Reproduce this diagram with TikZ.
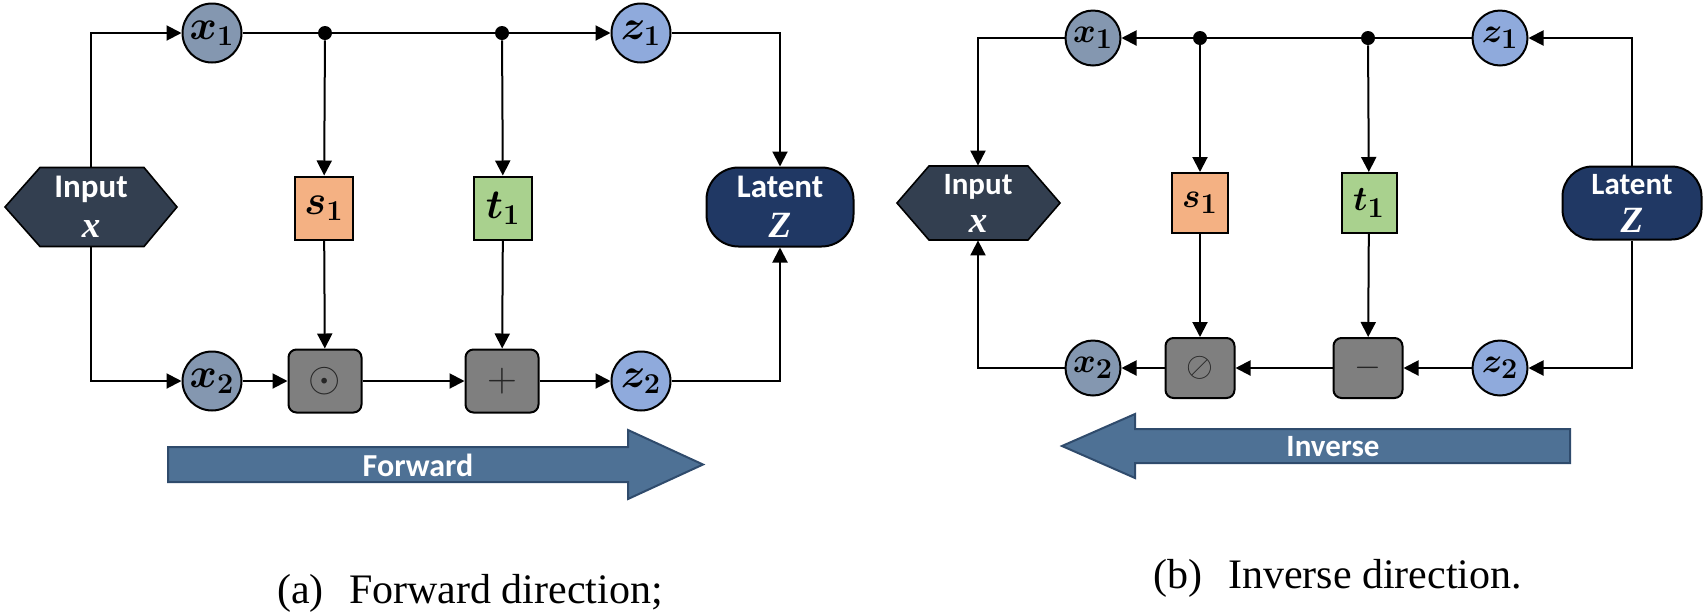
\documentclass[tikz,border=0pt]{standalone}
\usepackage{fontspec}
\setmainfont{Liberation Serif}
\newfontfamily\calib{Carlito}
\newfontfamily\serifbi{Liberation Serif}
\usepackage{bm}
\usetikzlibrary{arrows.meta,calc}
\definecolor{xcol}{HTML}{8497B0}
\definecolor{zcol}{HTML}{8FAADC}
\definecolor{scol}{HTML}{F4B183}
\definecolor{tcol}{HTML}{A9D18E}
\definecolor{opcol}{HTML}{7F7F7F}
\definecolor{incol}{HTML}{333F50}
\definecolor{latcol}{HTML}{203864}
\definecolor{arrfill}{HTML}{4E7195}
\definecolor{arrdraw}{HTML}{2F4B6C}
\newcommand{\bvar}[2]{{\boldmath$#1_{#2}$}}
\newcommand{\bsym}[1]{{\serifbi\bfseries\itshape\fontsize{18.5}{20}\selectfont #1}}
\begin{document}
\begin{tikzpicture}[x=0.5pt,y=-0.5pt,
  conn/.style={line width=1pt,-{Triangle[length=7.5pt,width=7.5pt]}},
  var/.style={circle,draw=black,line width=1pt,inner sep=0pt,font=\fontsize{20}{22}\selectfont},
  fbox/.style={rectangle,draw=black,line width=1pt,inner sep=0pt,font=\fontsize{20}{22}\selectfont},
  opbox/.style={rectangle,rounded corners=4pt,draw=black,line width=1pt,fill=opcol,inner sep=0pt,text=black!85,font=\fontsize{20}{22}\selectfont},
  jdot/.style={circle,fill=black,inner sep=0pt,minimum size=7pt},
  blocktxt/.style={text=white,align=center,inner sep=0pt,font=\calib\bfseries\fontsize{16.5}{19}\selectfont},
  bigtxt/.style={text=white,inner sep=0pt,font=\calib\bfseries\fontsize{16}{19}\selectfont},
  hexfill/.style={fill=incol,draw=black,line width=0.8pt},
  bigarrow/.style={fill=arrfill,draw=arrdraw,line width=1pt},
  caption/.style={anchor=base,inner sep=0pt,font=\fontsize{21}{25}\selectfont}
]
\useasboundingbox (0,0) rectangle (1704,612);

% ================= (a) Forward =================
\path[hexfill] (5,207) -- (40,167.5) -- (144,167.5) -- (177,207) -- (144,246.5) -- (40,246.5) -- cycle;
\node[blocktxt,minimum width=52pt,minimum height=39.5pt] (inA) at (91,207) {Input\\[1pt]\bsym{x}};

\node[var,fill=xcol,minimum size=29.5pt] (x1A) at (212,33) {\bvar{x}{1}};
\node[var,fill=xcol,minimum size=29.5pt] (x2A) at (212,381) {\bvar{x}{2}};
\node[var,fill=zcol,minimum size=29.5pt] (z1A) at (641,33) {\bvar{z}{1}};
\node[var,fill=zcol,minimum size=29.5pt] (z2A) at (641,381) {\bvar{z}{2}};

\node[fbox,fill=scol,minimum width=29pt,minimum height=31.5pt] (s1A) at (324,208) {\bvar{s}{1}};
\node[fbox,fill=tcol,minimum width=29pt,minimum height=31.5pt] (t1A) at (503,208) {\bvar{t}{1}};

\node[opbox,minimum width=36.5pt,minimum height=31.5pt] (odA) at (325,381) {$\odot$};
\node[opbox,minimum width=36.5pt,minimum height=31.5pt] (plA) at (502,381) {$+$};

\node[rectangle,rounded corners=16pt,draw=black,line width=1pt,fill=latcol,minimum width=73.5pt,minimum height=39.5pt,blocktxt] (latA) at (780,207) {Latent\\[1pt]\bsym{Z}};

\draw[conn] (x1A) -- (z1A);
\node[jdot] (d1A) at (325,33) {};
\node[jdot] (d2A) at (502,33) {};
\draw[conn] (inA.north) |- (x1A);
\draw[conn] (inA.south) |- (x2A);
\draw[conn] (d1A) -- (s1A);
\draw[conn] (s1A) -- (odA);
\draw[conn] (d2A) -- (t1A);
\draw[conn] (t1A) -- (plA);
\draw[conn] (x2A) -- (odA);
\draw[conn] (odA) -- (plA);
\draw[conn] (plA) -- (z2A);
\draw[conn] (z1A) -| (latA);
\draw[conn] (z2A) -| (latA);

\path[bigarrow] (168,447) -- (628,447) -- (628,430) -- (703,464.5) -- (628,499) -- (628,482) -- (168,482) -- cycle;
\node[bigtxt] (fwd) at (418,465) {Forward};

\node[caption] (capA) at (470,603) {(a)\hspace{0.6em}Forward direction;};

% ================= (b) Inverse =================
\path[hexfill] (897,203) -- (929,166) -- (1028,166) -- (1060,203) -- (1028,240) -- (929,240) -- cycle;
\node[blocktxt,minimum width=49.5pt,minimum height=37pt,font=\calib\bfseries\fontsize{15.5}{18}\selectfont] (inB) at (978,203) {Input\\[1pt]\bsym{x}};

\node[var,fill=xcol,minimum size=27.5pt,font=\fontsize{19}{21}\selectfont] (x1B) at (1093,38) {\bvar{x}{1}};
\node[var,fill=xcol,minimum size=27.5pt,font=\fontsize{19}{21}\selectfont] (x2B) at (1093,368) {\bvar{x}{2}};
\node[var,fill=zcol,minimum size=27.5pt,font=\fontsize{19}{21}\selectfont] (z1B) at (1500,38) {\bvar{z}{1}};
\node[var,fill=zcol,minimum size=27.5pt,font=\fontsize{19}{21}\selectfont] (z2B) at (1500,368) {\bvar{z}{2}};

\node[fbox,fill=scol,minimum width=28pt,minimum height=30pt,font=\fontsize{19}{21}\selectfont] (s1B) at (1200,203) {\bvar{s}{1}};
\node[fbox,fill=tcol,minimum width=27.5pt,minimum height=30pt,font=\fontsize{19}{21}\selectfont] (t1B) at (1369,203) {\bvar{t}{1}};

\node[opbox,minimum width=34.5pt,minimum height=30pt,font=\fontsize{19}{21}\selectfont] (dvB) at (1200,368) {$\oslash$};
\node[opbox,minimum width=34.5pt,minimum height=30pt,font=\fontsize{19}{21}\selectfont] (mnB) at (1368,368) {$-$};

\node[rectangle,rounded corners=15pt,draw=black,line width=1pt,fill=latcol,minimum width=69.5pt,minimum height=36.5pt,blocktxt,font=\calib\bfseries\fontsize{15.5}{18}\selectfont] (latB) at (1632,203) {Latent\\[1pt]\bsym{Z}};

\draw[conn] (z1B) -- (x1B);
\node[jdot] (d1B) at (1200,38) {};
\node[jdot] (d2B) at (1368,38) {};
\draw[conn] (latB.north) |- (z1B);
\draw[conn] (latB.south) |- (z2B);
\draw[conn] (x1B) -| (inB);
\draw[conn] (x2B) -| (inB);
\draw[conn] (d1B) -- (s1B);
\draw[conn] (s1B) -- (dvB);
\draw[conn] (d2B) -- (t1B);
\draw[conn] (t1B) -- (mnB);
\draw[conn] (z2B) -- (mnB);
\draw[conn] (mnB) -- (dvB);
\draw[conn] (dvB) -- (x2B);

\path[bigarrow] (1570,429) -- (1135,429) -- (1135,414) -- (1062,446) -- (1135,478) -- (1135,463) -- (1570,463) -- cycle;
\node[bigtxt,font=\calib\bfseries\fontsize{15.5}{18}\selectfont] (inv) at (1333,447) {Inverse};

\node[caption] (capB) at (1338,588) {(b)\hspace{0.6em}Inverse direction.};
\end{tikzpicture}
\end{document}
